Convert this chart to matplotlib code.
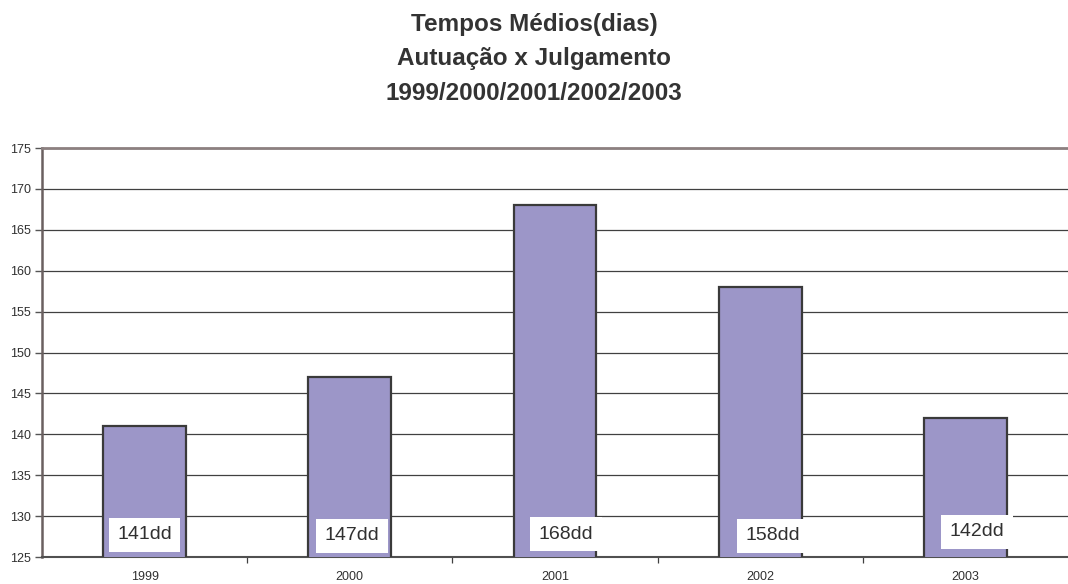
import matplotlib.pyplot as plt
import numpy as np

plt.rcParams["font.family"] = ["Liberation Sans", "DejaVu Sans"]

years = ["1999", "2000", "2001", "2002", "2003"]
dias = [141, 147, 168, 158, 142]
rotulos = ["141dd", "147dd", "168dd", "158dd", "142dd"]
# where the text boxes sit (x offset from bar centre, y in data units)
rotulo_dx = [0.0, 0.01, 0.054, 0.063, 0.056]
rotulo_y = [127.7, 127.6, 127.8, 127.6, 128.1]
titulo = ["Tempos Médios(dias)", "Autuação x Julgamento",
          "1999/2000/2001/2002/2003"]

x = np.arange(len(years))

fig = plt.figure(figsize=(10.68, 5.84), dpi=100)
ax = fig.add_axes([0.0393, 0.0462, 0.9607, 0.7003])

ax.bar(x, dias, width=0.404, bottom=0, color="#9c96c8",
       edgecolor="#3a3a3a", linewidth=1.6, zorder=3)

for xi, dx, yi, txt in zip(x, rotulo_dx, rotulo_y, rotulos):
    ax.text(xi + dx, yi, txt, ha="center", va="center", fontsize=14,
            color="#303030", zorder=4,
            bbox=dict(facecolor="white", edgecolor="none", pad=6))

ax.set_xlim(-0.5, 4.5)
ax.set_ylim(125, 175)
ax.set_yticks(np.arange(125, 176, 5))
ax.yaxis.grid(True, color="#404040", linewidth=0.9, zorder=0)
ax.set_axisbelow(True)

ax.set_xticks(np.arange(0.5, 4.5, 1))
ax.set_xticklabels([])
ax.set_xticks(x, minor=True)
ax.set_xticklabels(years, minor=True)
ax.tick_params(axis="x", which="major", length=4, width=0.9, color="#404040",
               direction="out")
ax.tick_params(axis="x", which="minor", length=0, pad=10, labelsize=9,
               labelcolor="#303030")
ax.tick_params(axis="y", length=5, width=1, color="#555555", labelsize=9,
               labelcolor="#303030", pad=3)

ax.spines["right"].set_visible(False)
ax.spines["top"].set_color("#8c8080")
ax.spines["top"].set_linewidth(2)
ax.spines["left"].set_color("#6a6060")
ax.spines["left"].set_linewidth(1.8)
ax.spines["bottom"].set_color("#505050")
ax.spines["bottom"].set_linewidth(1.5)

for i, linha in enumerate(titulo):
    fig.text(0.5, 1 - (31 + 34.5 * i) / 584, linha, ha="center",
             va="baseline", fontsize=17.5, fontweight="bold", color="#333333")

fig.savefig("out.png", dpi=100)
